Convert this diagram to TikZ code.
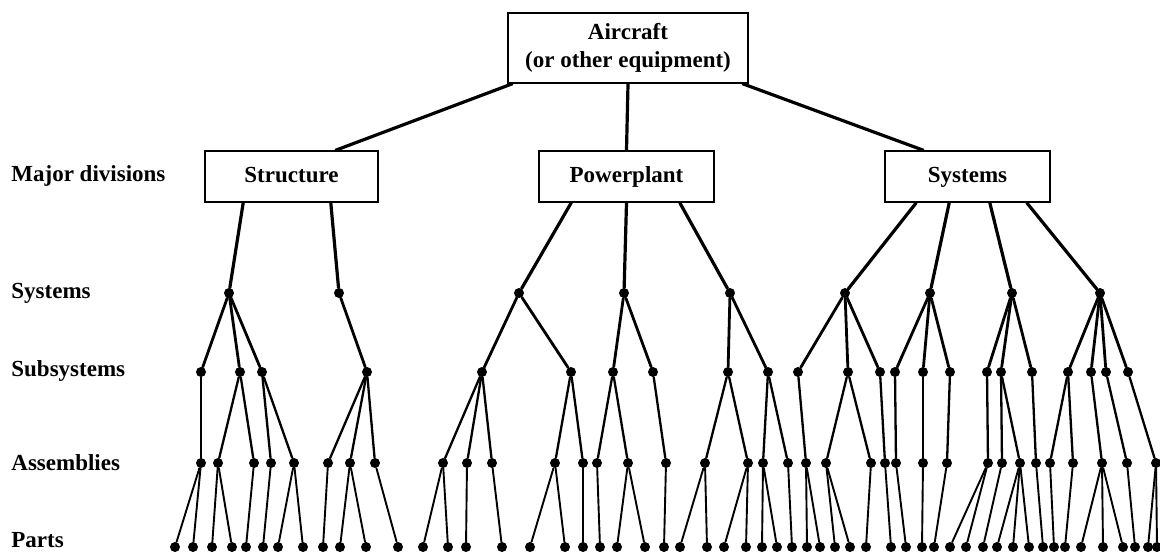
\documentclass[tikz,border=0pt]{standalone}
\usepackage{fontspec}
\setmainfont{Liberation Serif}
\usetikzlibrary{positioning}

\begin{document}
\begin{tikzpicture}[x=0.5pt,y=-0.5pt,font=\fontsize{11.5}{14}\selectfont\bfseries,
                    line cap=round]
  \tikzstyle{box}=[draw,line width=0.8pt,inner sep=0pt,minimum height=25.5pt,align=center]
  \tikzstyle{divbox}=[box,text height=8pt,text depth=2.5pt]
  \tikzstyle{dot}=[circle,fill=black,inner sep=0pt,minimum size=5pt]
  \tikzstyle{level}=[anchor=west,inner sep=0pt]
  \tikzstyle{main}=[line width=1.6pt]
  \tikzstyle{sysline}=[line width=1.4pt]
  \tikzstyle{subline}=[line width=1.15pt]
  \tikzstyle{asmline}=[line width=0.95pt]

  \useasboundingbox (0,0) rectangle (1160,551);

  % level names
  \node[level] (lmaj) at (11,176) {Major divisions};
  \node[level] (lsys) at (11,293) {Systems};
  \node[level] (lsub) at (11,371) {Subsystems};
  \node[level] (lasm) at (11,463) {Assemblies};
  \node[level] (lprt) at (11,540) {Parts};

  % boxes
  \node[box,minimum width=120pt,minimum height=35pt] (air) at (628,48)
       {Aircraft\\(or other equipment)};
  \node[divbox,minimum width=86.5pt] (str) at (291.5,176.5) {Structure};
  \node[divbox,minimum width=87.5pt] (pow) at (626.5,176.5) {Powerplant};
  \node[divbox,minimum width=82.5pt] (sys) at (967.5,176.5) {Systems};

  \draw[main] ([xshift=2.5pt]air.south west) -- ([xshift=-21.5pt]str.north east);
  \draw[main] (air.south) -- (pow.north);
  \draw[main] ([xshift=-3pt]air.south east) -- ([xshift=19.5pt]sys.north west);

  % dots, named by their x position
  \foreach \x in {229,339,519,624,730,845,930,1012,1100}
    \node[dot] (s\x) at (\x,293) {};
  \foreach \x in {201,240,262,367,482,571,613,653,728,768,798,848,880,895,923,
                  950,987,1001,1032,1068,1091,1106,1128}
    \node[dot] (u\x) at (\x,372) {};
  \foreach \x in {201,218,254,271,294,328,350,375,443,467,492,555,583,597,628,
                  666,705,748,763,788,806,826,871,885,896,923,947,988,1002,1020,
                  1036,1050,1073,1102,1127,1156}
    \node[dot] (a\x) at (\x,463) {};
  \foreach \x in {175,193,212,232,246,263,278,303,323,340,366,398,423,448,466,
                  502,530,565,583,600,617,645,664,680,707,724,746,762,777,792,
                  807,820,835,850,866,891,906,922,934,950,966,983,997,1013,1029,
                  1043,1054,1065,1081,1103,1123,1135,1148,1157}
    \node[dot] (p\x) at (\x,547) {};

  % major divisions to systems
  \draw[main] ([xshift=19.5pt]str.south west) -- (s229);
  \draw[main] ([xshift=-24pt]str.south east) -- (s339);
  \draw[main] ([xshift=16.5pt]pow.south west) -- (s519);
  \draw[main] (pow.south) -- (s624);
  \draw[main] ([xshift=-17.5pt]pow.south east) -- (s730);
  \draw[main] ([xshift=16pt]sys.south west) -- (s845);
  \draw[main] ([xshift=32.5pt]sys.south west) -- (s930);
  \draw[main] ([xshift=-30.5pt]sys.south east) -- (s1012);
  \draw[main] ([xshift=-12pt]sys.south east) -- (s1100);

  % systems to subsystems
  \foreach \a/\b in {s229/u201,s229/u240,s229/u262,s339/u367,s519/u482,s519/u571,
                     s624/u613,s624/u653,s730/u728,s730/u768,s845/u798,s845/u848,
                     s845/u880,s930/u895,s930/u923,s930/u950,s1012/u987,s1012/u1001,
                     s1012/u1032,s1100/u1068,s1100/u1091,s1100/u1106,s1100/u1128}
    \draw[sysline] (\a) -- (\b);

  % subsystems to assemblies
  \foreach \a/\b in {u201/a201,u240/a218,u240/a254,u262/a271,u262/a294,u367/a328,
                     u367/a350,u367/a375,u482/a443,u482/a467,u482/a492,u571/a555,
                     u571/a583,u613/a597,u613/a628,u653/a666,u728/a705,u728/a748,
                     u768/a763,u768/a788,u798/a806,u848/a826,u848/a871,u880/a885,
                     u895/a896,u923/a923,u950/a947,u987/a988,u1001/a1002,u1001/a1020,
                     u1032/a1036,u1068/a1050,u1068/a1073,u1091/a1102,u1106/a1127,
                     u1128/a1156}
    \draw[subline] (\a) -- (\b);

  % assemblies to parts
  \foreach \a/\b in {a201/p175,a201/p193,a218/p212,a218/p232,a254/p246,a271/p263,
                     a294/p278,a294/p303,a328/p323,a350/p340,a350/p366,a375/p398,
                     a443/p423,a443/p448,a467/p466,a492/p502,a555/p530,a555/p565,
                     a583/p583,a597/p600,a628/p617,a628/p645,a666/p664,a705/p680,
                     a705/p707,a748/p724,a748/p746,a763/p762,a763/p777,a788/p792,
                     a806/p807,a806/p820,a826/p835,a826/p850,a871/p866,a885/p891,
                     a896/p906,a923/p922,a947/p934,a988/p950,a988/p966,a1002/p983,
                     a1020/p997,a1020/p1013,a1020/p1029,a1036/p1043,a1050/p1054,
                     a1073/p1065,a1102/p1081,a1102/p1103,a1102/p1123,a1127/p1135,
                     a1156/p1148,a1156/p1157}
    \draw[asmline] (\a) -- (\b);
\end{tikzpicture}
\end{document}
